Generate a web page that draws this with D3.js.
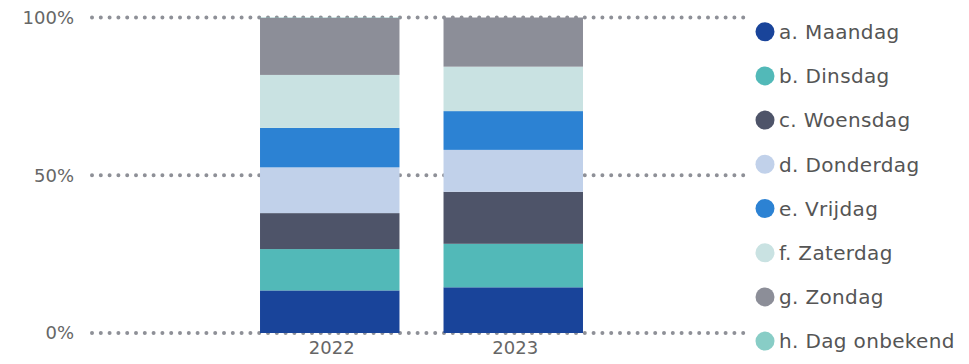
<!DOCTYPE html>
<html>
<head>
<meta charset="utf-8">
<script src="https://cdn.jsdelivr.net/npm/d3@7"></script>
<style>
  html, body { margin: 0; padding: 0; background: #fff; }
  svg { display: block; }
  text { font-family: "DejaVu Sans", Verdana, sans-serif; }
</style>
</head>
<body>
<svg id="chart" width="969" height="364"></svg>
<script>
// ---- data ----
const years = ["2022", "2023"];
const days = ["a. Maandag", "b. Dinsdag", "c. Woensdag", "d. Donderdag", "e. Vrijdag", "f. Zaterdag", "g. Zondag", "h. Dag onbekend"];
const colors = ["#19449a", "#52b9b8", "#4e5469", "#c1d1ea", "#2c82d3", "#c9e2e2", "#8c8e98", "#88cdc6"];
// percentage share per day (order = days), one array per year
const values2022 = [13.5, 13.1, 11.4, 14.5, 12.5, 16.8, 18.1, 0.1];
const values2023 = [14.5, 13.8, 16.5, 13.3, 12.3, 14.1, 15.6, 0.0];
const yTicks = [0, 0.5, 1];

// ---- build table ----
const table = years.map((y, i) => {
  const vals = i === 0 ? values2022 : values2023;
  const row = { year: y };
  days.forEach((d, j) => row[d] = vals[j]);
  return row;
});

const svg = d3.select("#chart");

const x = d3.scaleBand().domain(years).range([238, 605]).paddingInner(0.24).paddingOuter(0.12);
const y = d3.scaleLinear().domain([0, 1]).range([333, 17.5]);
const color = d3.scaleOrdinal().domain(days).range(colors);

const stack = d3.stack().keys(days).offset(d3.stackOffsetExpand);
const series = stack(table);

// gridlines
svg.append("g").selectAll("line").data(yTicks).join("line")
  .attr("x1", 92).attr("x2", 750)
  .attr("y1", d => y(d)).attr("y2", d => y(d))
  .attr("stroke", "#8e9097")
  .attr("stroke-width", 4)
  .attr("stroke-linecap", "round")
  .attr("stroke-dasharray", "0,8.8");

// y axis labels
const yAxis = d3.axisLeft(y).tickValues(yTicks).tickFormat(d3.format(".0%")).tickSize(0).tickPadding(0);
const gy = svg.append("g").attr("transform", "translate(74,0)").call(yAxis);
gy.select(".domain").remove();
gy.selectAll("text").attr("fill", "#666").attr("font-size", 18)
  .attr("font-family", "DejaVu Sans, sans-serif");

// bars
svg.append("g").selectAll("g").data(series).join("g")
  .attr("fill", d => color(d.key))
  .selectAll("rect").data(d => d).join("rect")
  .attr("x", d => x(d.data.year))
  .attr("width", x.bandwidth())
  .attr("y", d => y(d[1]))
  .attr("height", d => y(d[0]) - y(d[1]));

// x axis labels
const xAxis = d3.axisBottom(x).tickSize(0).tickPadding(0);
const gx = svg.append("g").attr("transform", "translate(2,341)").call(xAxis);
gx.select(".domain").remove();
gx.selectAll("text").attr("fill", "#666").attr("font-size", 18)
  .attr("font-family", "DejaVu Sans, sans-serif");

// legend
const leg = svg.append("g").selectAll("g").data(days).join("g")
  .attr("transform", (d, i) => `translate(765,${31.7 + i * 44.2})`);
leg.append("circle").attr("r", 9.5).attr("fill", d => color(d));
leg.append("text").attr("x", 14).attr("dy", "0.36em")
  .attr("font-size", 20).attr("letter-spacing", 0.35).attr("fill", "#555").text(d => d);
</script>
</body>
</html>
